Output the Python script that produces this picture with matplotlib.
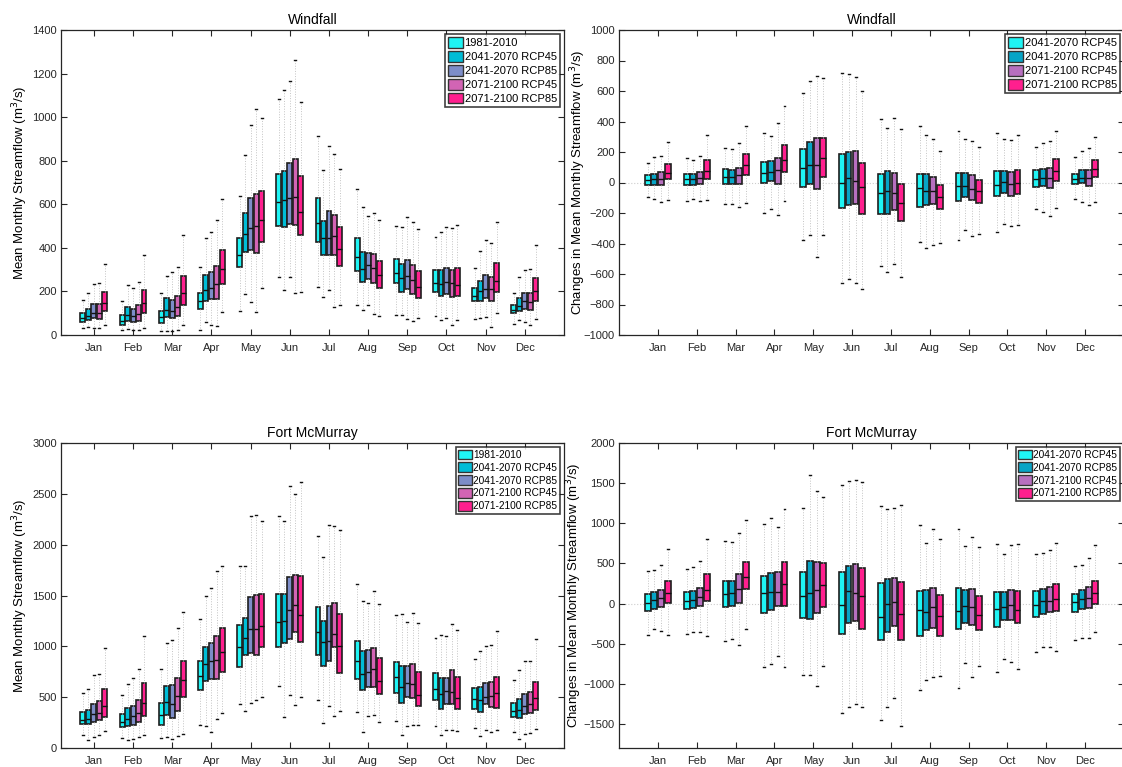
import numpy as np
import matplotlib
matplotlib.use("Agg")
import matplotlib.pyplot as plt
from matplotlib.patches import Patch

plt.rcParams['font.family'] = ['Liberation Sans', 'DejaVu Sans']

months = ['Jan', 'Feb', 'Mar', 'Apr', 'May', 'Jun', 'Jul', 'Aug', 'Sep', 'Oct', 'Nov', 'Dec']

abs_labels = ['1981-2010', '2041-2070 RCP45', '2041-2070 RCP85', '2071-2100 RCP45', '2071-2100 RCP85']
chg_labels = ['2041-2070 RCP45', '2041-2070 RCP85', '2071-2100 RCP45', '2071-2100 RCP85']
abs_colors = ['#1ff4f4', '#00bcd6', '#7d8dc8', '#d264b4', '#ff1f8e']
chg_colors = ['#1ff4f4', '#07a4c6', '#b76fbf', '#ff1f8e']

# ---- Windfall, mean monthly streamflow (rows = periods, cols = months)
WF_LO = [[34, 23, 18, 23, 112, 266, 220, 140, 91, 88, 75, 52],
         [38, 26, 20, 58, 186, 208, 174, 115, 94, 68, 78, 68],
         [34, 22, 20, 46, 151, 266, 206, 137, 72, 78, 82, 58],
         [34, 22, 25, 43, 105, 191, 128, 97, 63, 48, 38, 46],
         [46, 34, 45, 105, 217, 197, 137, 86, 78, 68, 100, 72]]
WF_Q1 = [[58, 46, 54, 118, 312, 500, 429, 295, 240, 198, 154, 100],
         [71, 62, 83, 157, 380, 497, 369, 245, 197, 180, 158, 108],
         [77, 58, 77, 166, 389, 511, 365, 258, 211, 186, 168, 121],
         [74, 65, 85, 166, 377, 503, 365, 238, 189, 174, 157, 114],
         [111, 100, 138, 234, 428, 458, 318, 215, 168, 181, 198, 155]]
WF_MED = [[80, 65, 82, 154, 365, 611, 515, 358, 286, 240, 177, 114],
          [85, 92, 115, 208, 464, 621, 446, 301, 260, 235, 203, 134],
          [100, 88, 112, 218, 489, 631, 446, 323, 269, 241, 211, 155],
          [100, 95, 129, 234, 500, 635, 455, 306, 251, 238, 211, 151],
          [145, 148, 195, 305, 529, 564, 395, 274, 221, 231, 249, 201]]
WF_Q3 = [[100, 91, 111, 195, 444, 741, 628, 446, 348, 298, 215, 138],
         [121, 128, 169, 277, 560, 752, 524, 380, 326, 298, 246, 169],
         [141, 121, 161, 289, 627, 791, 567, 377, 345, 308, 274, 192],
         [141, 138, 177, 315, 649, 809, 549, 374, 321, 298, 265, 192],
         [197, 208, 271, 391, 660, 731, 497, 341, 294, 308, 331, 261]]
WF_HI = [[161, 157, 195, 314, 638, 1084, 912, 669, 501, 449, 308, 194],
         [195, 229, 269, 446, 826, 1123, 757, 588, 498, 475, 385, 266],
         [234, 215, 291, 472, 966, 1167, 866, 548, 543, 498, 435, 300],
         [238, 243, 311, 528, 1037, 1261, 829, 560, 520, 491, 421, 301],
         [326, 366, 457, 626, 994, 1070, 761, 528, 488, 506, 517, 415]]

# ---- Windfall, changes
WFD_LO = [[-92, -123, -143, -197, -377, -662, -548, -388, -379, -325, -173, -110],
          [-107, -107, -138, -173, -344, -632, -590, -428, -309, -272, -195, -129],
          [-125, -121, -160, -211, -489, -658, -535, -408, -353, -287, -221, -147],
          [-118, -114, -136, -123, -346, -697, -618, -397, -340, -276, -169, -129]]
WFD_Q1 = [[-15, -15, -9, 0, -31, -167, -206, -158, -121, -90, -29, -13],
          [-15, -15, -9, 7, -9, -147, -206, -147, -94, -66, -26, -4],
          [-15, -11, -9, -9, -44, -143, -182, -143, -118, -86, -37, -20],
          [24, 26, 50, 70, 35, -208, -254, -173, -134, -77, 11, 35]]
WFD_MED = [[18, 24, 39, 61, 92, -4, -72, -37, -20, -15, 20, 22],
           [20, 20, 35, 66, 114, 29, -55, -53, -20, 2, 31, 31],
           [24, 29, 46, 83, 116, 11, -72, -57, -42, -11, 31, 31],
           [61, 77, 116, 147, 158, -31, -134, -96, -57, -4, 75, 86]]
WFD_Q3 = [[46, 59, 90, 132, 221, 189, 53, 53, 61, 75, 79, 57],
          [59, 53, 83, 138, 268, 200, 77, 53, 61, 75, 90, 81],
          [66, 66, 96, 160, 289, 204, 64, 37, 50, 72, 92, 81],
          [121, 145, 186, 243, 294, 129, -13, -18, 15, 83, 156, 145]]
WFD_HI = [[129, 158, 228, 325, 590, 721, 414, 371, 336, 322, 235, 164],
          [167, 147, 217, 307, 664, 711, 360, 314, 287, 285, 261, 206],
          [173, 175, 257, 393, 700, 695, 421, 287, 274, 279, 270, 224],
          [265, 314, 373, 500, 682, 597, 353, 204, 232, 314, 338, 300]]

# ---- Fort McMurray, mean monthly streamflow
FM_LO = [[125, 102, 95, 226, 436, 613, 472, 354, 269, 216, 197, 157],
         [82, 75, 108, 220, 367, 302, 246, 157, 128, 125, 121, 92],
         [111, 85, 85, 157, 439, 521, 410, 318, 220, 180, 177, 138],
         [131, 111, 118, 289, 469, 426, 318, 328, 223, 174, 161, 151],
         [167, 131, 138, 348, 502, 505, 367, 259, 223, 171, 180, 190]]
FM_Q1 = [[233, 207, 223, 574, 800, 997, 912, 675, 538, 469, 384, 302],
         [236, 220, 328, 656, 918, 1030, 810, 571, 446, 384, 357, 295],
         [252, 223, 298, 675, 931, 1069, 853, 603, 505, 430, 430, 331],
         [275, 252, 367, 675, 915, 1138, 997, 603, 492, 433, 407, 341],
         [308, 311, 498, 744, 990, 1039, 734, 528, 413, 380, 397, 377]]
FM_MED = [[275, 252, 321, 708, 990, 1236, 1138, 853, 695, 580, 485, 364],
          [285, 289, 449, 823, 1079, 1249, 1039, 725, 597, 528, 469, 374],
          [331, 312, 436, 853, 1167, 1361, 1049, 744, 636, 557, 505, 416],
          [348, 341, 512, 862, 1167, 1403, 1121, 777, 630, 548, 512, 430],
          [416, 446, 669, 941, 1203, 1305, 1007, 659, 518, 492, 541, 492]]
FM_Q3 = [[357, 331, 446, 853, 1207, 1512, 1390, 1053, 849, 734, 587, 446],
         [377, 390, 613, 994, 1282, 1512, 1246, 951, 803, 689, 597, 482],
         [436, 413, 620, 1036, 1482, 1679, 1394, 967, 803, 692, 639, 534],
         [466, 469, 692, 1105, 1508, 1699, 1430, 987, 823, 764, 646, 551],
         [584, 636, 856, 1184, 1518, 1689, 1315, 882, 744, 695, 702, 649]]
FM_HI = [[544, 521, 774, 1266, 1790, 2279, 2089, 1617, 1305, 1085, 879, 669],
         [584, 630, 1033, 1492, 1790, 2236, 1879, 1449, 1321, 1108, 957, 771],
         [715, 689, 1062, 1571, 2282, 2581, 2194, 1430, 1243, 1098, 1003, 859],
         [731, 780, 1184, 1744, 2289, 2502, 2181, 1548, 1331, 1223, 1010, 859],
         [980, 1098, 1338, 1787, 2230, 2613, 2141, 1417, 1230, 1157, 1154, 1072]]

# ---- Fort McMurray, changes
FMD_LO = [[-396, -375, -471, -788, -896, -1367, -1450, -1079, -1050, -858, -600, -450],
          [-317, -354, -442, -754, -896, -1283, -1283, -950, -738, -696, -546, -425],
          [-346, -358, -517, -650, -1033, -1250, -1171, -917, -921, -729, -546, -429],
          [-392, -408, -313, -792, -783, -1292, -1521, -908, -775, -821, -592, -354]]
FMD_Q1 = [[-92, -67, -42, -121, -175, -383, -450, -404, -321, -288, -171, -104],
          [-67, -54, -29, -79, -188, -238, -358, -329, -242, -204, -125, -63],
          [-42, -29, 4, -25, -117, -217, -275, -304, -267, -204, -108, -50],
          [8, 33, 175, -25, -42, -313, -450, -408, -329, -242, -92, -4]]
FMD_MED = [[8, 33, 121, 129, 100, -17, -171, -83, -96, -67, -21, 13],
           [42, 38, 125, 146, 133, 150, -4, -108, -33, -42, 29, 54],
           [71, 83, 183, 146, 167, 125, 17, -46, -42, -17, 33, 63],
           [133, 167, 333, 246, 233, 100, -129, -158, -138, -79, 58, 133]]
FMD_Q3 = [[113, 138, 283, 342, 392, 388, 250, 154, 188, 142, 150, 121],
          [138, 154, 283, 379, 533, 471, 304, 167, 163, 142, 179, 171],
          [167, 192, 367, 396, 513, 488, 317, 192, 179, 171, 208, 208],
          [283, 363, 521, 517, 508, 442, 271, 104, 88, 154, 246, 283]]
FMD_HI = [[400, 433, 779, 992, 1196, 1471, 1221, 979, 933, 746, 621, 467],
          [421, 454, 771, 1067, 1600, 1525, 1183, 758, 717, 617, 633, 483],
          [483, 529, 879, 950, 1404, 1542, 1196, 933, 825, 725, 671, 567],
          [679, 800, 1046, 1175, 1333, 1508, 1229, 808, 708, 742, 754, 725]]

W, H = 1122, 767
fig = plt.figure(figsize=(W / 100, H / 100), dpi=100)

def px_axes(x0, y0, x1, y1):
    # axes from pixel box (y measured from top)
    return fig.add_axes([x0 / W, 1 - y1 / H, (x1 - x0) / W, (y1 - y0) / H])

def draw_boxes(ax, lo, q1, med, q3, hi, colors, offsets, width):
    x = np.arange(1, 13)
    for i, c in enumerate(colors):
        stats = [dict(whislo=lo[i][m], q1=q1[i][m], med=med[i][m], q3=q3[i][m],
                      whishi=hi[i][m], fliers=[]) for m in range(12)]
        ax.bxp(stats, positions=x + offsets[i], widths=width, patch_artist=True,
               showfliers=False, manage_ticks=False, capwidths=0.05,
               boxprops=dict(facecolor=c, edgecolor='#1e1e1e', linewidth=1.2),
               whiskerprops=dict(color='#c4c4c4', linestyle=':', linewidth=0.7),
               capprops=dict(color='#111111', linewidth=1.0),
               medianprops=dict(color='#111111', linewidth=1.0))

def style(ax, title, ylabel, xlim, ylim, yticks, lpad):
    ax.set_xlim(*xlim)
    ax.set_ylim(*ylim)
    ax.set_xticks(np.arange(1, 13))
    ax.set_xticklabels(months)
    ax.set_yticks(yticks)
    ax.tick_params(direction='in', top=True, right=True, length=4, width=0.8,
                   labelsize=8, labelcolor='#262626', color='#262626')
    ax.tick_params(axis='x', pad=6)
    ax.tick_params(axis='y', pad=3)
    for s in ax.spines.values():
        s.set_color('#262626')
        s.set_linewidth(0.9)
    ax.set_title(title, fontsize=10, pad=4)
    ax.set_ylabel(ylabel, fontsize=9.5, labelpad=lpad)

def add_legend(ax, labels, colors, fs):
    handles = [Patch(facecolor=c, edgecolor='#333333', linewidth=1.0) for c in colors]
    leg = ax.legend(handles, labels, loc='upper right', fontsize=fs, frameon=True,
                    fancybox=False, borderpad=0.25, labelspacing=0.25,
                    handlelength=1.4, handleheight=1.1, handletextpad=0.1,
                    borderaxespad=0.4)
    leg.get_frame().set_edgecolor('#111111')
    leg.get_frame().set_linewidth(1.2)

abs_off = np.array([-0.28, -0.14, 0.0, 0.14, 0.28])
chg_off = np.array([-0.26, -0.09, 0.09, 0.26])
ylab_abs = 'Mean Monthly Streamflow (m$^3$/s)'
ylab_chg = 'Changes in Mean Monthly Streamflow (m$^3$/s)'

# top left
ax1 = px_axes(61, 30, 564, 335)
draw_boxes(ax1, WF_LO, WF_Q1, WF_MED, WF_Q3, WF_HI, abs_colors, abs_off, 0.125)
style(ax1, 'Windfall', ylab_abs, (0.16, 13.0), (0, 1400), np.arange(0, 1401, 200), 1.5)
add_legend(ax1, abs_labels, abs_colors, 8)

# top right
ax2 = px_axes(619, 30, 1124, 335)
ax2.axhline(0, color='#cccccc', linestyle=':', linewidth=0.8, zorder=0)
draw_boxes(ax2, WFD_LO, WFD_Q1, WFD_MED, WFD_Q3, WFD_HI, chg_colors, chg_off, 0.15)
style(ax2, 'Windfall', ylab_chg, (0, 13), (-1000, 1000), np.arange(-1000, 1001, 200), -3)
add_legend(ax2, chg_labels, chg_colors, 8)

# bottom left
ax3 = px_axes(61, 443, 564, 748)
draw_boxes(ax3, FM_LO, FM_Q1, FM_MED, FM_Q3, FM_HI, abs_colors, abs_off, 0.125)
style(ax3, 'Fort McMurray', ylab_abs, (0.16, 13.0), (0, 3000), np.arange(0, 3001, 500), 1.5)
add_legend(ax3, abs_labels, abs_colors, 7.3)

# bottom right
ax4 = px_axes(619, 443, 1124, 748)
ax4.axhline(0, color='#cccccc', linestyle=':', linewidth=0.8, zorder=0)
draw_boxes(ax4, FMD_LO, FMD_Q1, FMD_MED, FMD_Q3, FMD_HI, chg_colors, chg_off, 0.15)
style(ax4, 'Fort McMurray', ylab_chg, (0, 13), (-1800, 2000), np.arange(-1500, 2001, 500), 0)
add_legend(ax4, chg_labels, chg_colors, 7.3)

fig.savefig('out.png', dpi=100, facecolor='white')
